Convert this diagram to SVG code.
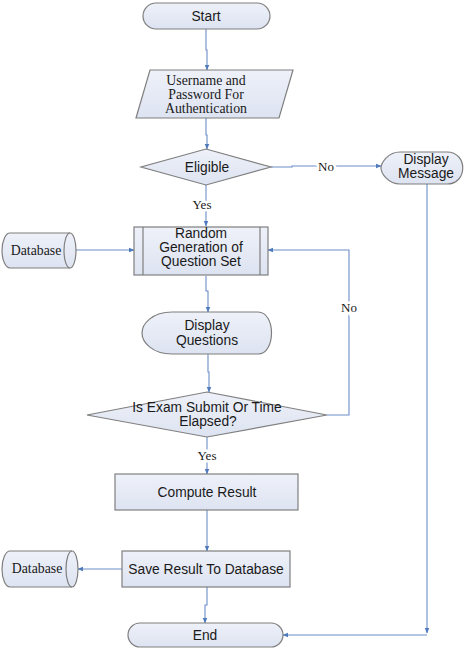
<svg xmlns="http://www.w3.org/2000/svg" width="466" height="653" viewBox="0 0 466 653">
<defs>
<linearGradient id="g" x1="0" y1="0" x2="0" y2="1">
<stop offset="0" stop-color="#eef1f9"/>
<stop offset="1" stop-color="#dde3f1"/>
</linearGradient>
<marker id="ah" viewBox="0 0 10 10" refX="9" refY="5" markerWidth="6" markerHeight="6" orient="auto" markerUnits="userSpaceOnUse">
<path d="M0,1 L10,5 L0,9 Z" fill="#4f7bbd"/>
</marker>
<style>
.s{fill:url(#g);stroke:#7f7f7f;stroke-width:1.2}
.l{fill:none;stroke:#6c8ec9;stroke-width:1.1}
.a{font-family:"Liberation Sans",Arial,sans-serif;font-size:13.8px;fill:#1a1a1a;text-anchor:middle}
.t{font-family:"Liberation Serif","Times New Roman",serif;font-size:13.8px;fill:#1a1a1a;text-anchor:middle}
.lb{font-family:"Liberation Serif","Times New Roman",serif;font-size:13px;fill:#1a1a1a;text-anchor:middle;stroke:#fff;stroke-width:5;paint-order:stroke}
</style>
</defs>
<rect width="466" height="653" fill="#fff"/>
<g id="connectors">
<path class="l" d="M206,28 V50 H207 V70" marker-end="url(#ah)"/>
<path class="l" d="M206,118 V135 H207 V149" marker-end="url(#ah)"/>
<path class="l" d="M271,167 H292 V166 H381" marker-end="url(#ah)"/>
<path class="l" d="M206,185 V226" marker-end="url(#ah)"/>
<path class="l" d="M76,250 H134" marker-end="url(#ah)"/>
<path class="l" d="M206,276 V291 H208 V312" marker-end="url(#ah)"/>
<path class="l" d="M208,354 V372 H209 V392" marker-end="url(#ah)"/>
<path class="l" d="M327,415 H349 V250 H268" marker-end="url(#ah)"/>
<path class="l" d="M207,437 V474" marker-end="url(#ah)"/>
<path class="l" d="M207,510 V551" marker-end="url(#ah)"/>
<path class="l" d="M122,569 H78" marker-end="url(#ah)"/>
<path class="l" d="M207,587 V605 H205 V623" marker-end="url(#ah)"/>
<path class="l" d="M427,183 V633" marker-end="url(#ah)"/>
<path class="l" d="M427,635 H283" marker-end="url(#ah)"/>
<text class="lb" x="326" y="171">No</text>
<text class="lb" x="202" y="209">Yes</text>
<text class="lb" x="349" y="312">No</text>
<text class="lb" x="207" y="460">Yes</text>
</g>
<g id="start">
<rect class="s" x="143" y="3" width="127" height="26" rx="13"/>
<text class="a" x="206" y="21">Start</text>
</g>
<g id="login">
<path class="s" d="M150,70 H293 L279,118 H136 Z"/>
<text class="t" x="206" y="85">Username and</text>
<text class="t" x="206" y="99">Password For</text>
<text class="t" x="206" y="113">Authentication</text>
</g>
<g id="eligible">
<path class="s" d="M206,149 L271,167 L206,185 L141,167 Z"/>
<text class="a" x="207" y="172">Eligible</text>
</g>
<g id="displayMessage">
<path class="s" d="M400,152 H447 C468,152 468,184 447,184 H400 C388,184 381,173 381,168 C381,163 388,152 400,152 Z"/>
<text class="a" x="426" y="164">Display</text>
<text class="a" x="426" y="178">Message</text>
</g>
<g id="database1">
<path class="s" d="M10,233 H70 A6,17.5 0 0 1 70,268 H10 A8,17.5 0 0 1 10,233 Z"/>
<path fill="none" stroke="#7f7f7f" stroke-width="1.2" d="M70,233 A6,17.5 0 0 0 70,268"/>
<text class="t" x="36" y="255">Database</text>
</g>
<g id="random">
<rect class="s" x="134" y="227" width="134" height="48"/>
<path fill="none" stroke="#7f7f7f" stroke-width="1.2" d="M143,227 V275 M260,227 V275"/>
<text class="a" x="201" y="238">Random</text>
<text class="a" x="201" y="252">Generation of</text>
<text class="a" x="201" y="266">Question Set</text>
</g>
<g id="displayQuestions">
<path class="s" d="M172,312 H258 C276,312 276,354 258,354 H172 C152,354 142,342 142,333 C142,324 152,312 172,312 Z"/>
<text class="a" x="207" y="330">Display</text>
<text class="a" x="207" y="345">Questions</text>
</g>
<g id="submit">
<path class="s" d="M207,392 L327,415 L207,437 L87,415 Z"/>
<text class="a" x="207" y="412">Is Exam Submit Or Time</text>
<text class="a" x="208" y="426">Elapsed?</text>
</g>
<g id="compute">
<rect class="s" x="115" y="474" width="183" height="36"/>
<text class="a" x="207" y="497">Compute Result</text>
</g>
<g id="save">
<rect class="s" x="122" y="551" width="168" height="36"/>
<text class="a" x="206" y="574">Save Result To Database</text>
</g>
<g id="database2">
<path class="s" d="M10,551 H72 A6,18 0 0 1 72,587 H10 A8,18 0 0 1 10,551 Z"/>
<path fill="none" stroke="#7f7f7f" stroke-width="1.2" d="M72,551 A6,18 0 0 0 72,587"/>
<text class="t" x="37" y="573">Database</text>
</g>
<g id="end">
<rect class="s" x="128" y="623" width="155" height="24" rx="12"/>
<text class="a" x="205" y="640">End</text>
</g>
</svg>
